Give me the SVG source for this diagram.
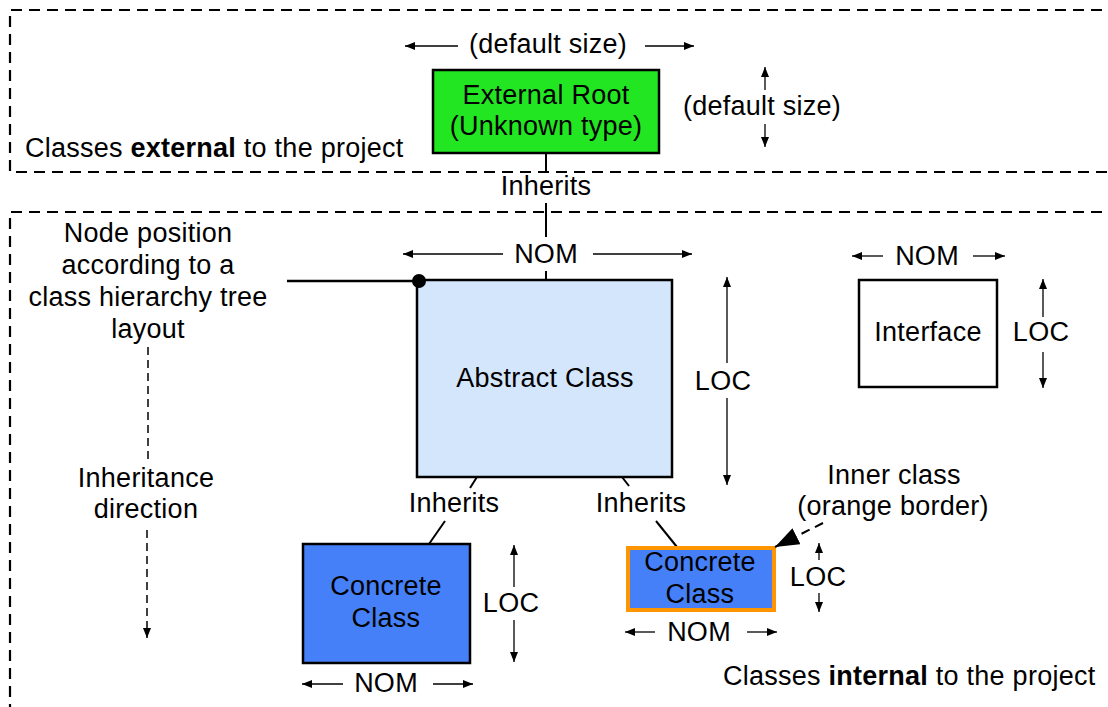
<svg xmlns="http://www.w3.org/2000/svg" width="1108" height="707" viewBox="0 0 1108 707">
  <defs>
    <marker id="arr" viewBox="0 0 10 8" refX="10" refY="4" markerWidth="10" markerHeight="8" markerUnits="userSpaceOnUse" orient="auto">
      <path d="M0,0 L10,4 L0,8 Z" fill="#000"/>
    </marker>
    <marker id="bigarr" viewBox="0 0 24 18" refX="24" refY="9" markerWidth="24" markerHeight="18" markerUnits="userSpaceOnUse" orient="auto">
      <path d="M0,0 L24,9 L0,18 Z" fill="#000"/>
    </marker>
    <style>
      text { font-family: "Liberation Sans", Arial, Helvetica, sans-serif; font-size: 27px; letter-spacing: 0.25px; fill: #000; }
      .c { text-anchor: middle; }
      .b { font-weight: bold; }
      .region { fill: none; stroke: #000; stroke-width: 2.2; stroke-dasharray: 11 7; }
      .dim { stroke: #000; stroke-width: 1.3; fill: none; marker-end: url(#arr); }
      .edge { stroke: #000; stroke-width: 2; fill: none; }
      .node { stroke: #000; stroke-width: 2.5; }
      .hint { stroke: #000; stroke-width: 1.5; fill: none; stroke-dasharray: 8 5; }
    </style>
  </defs>

  <rect width="1108" height="707" fill="#fff"/>

  <!-- project boundaries -->
  <g id="regions">
    <path class="region" d="M1120,10 H10 V172 H1120"/>
    <path class="region" d="M1120,212 H10 V720"/>
    <text x="25" y="157">Classes <tspan class="b">external</tspan> to the project</text>
    <text x="723" y="685">Classes <tspan class="b">internal</tspan> to the project</text>
  </g>

  <!-- inheritance connectors -->
  <g id="connectors">
    <path class="edge" d="M546,153 V171"/>
    <path class="edge" d="M546,203 V237"/>
    <path class="edge" d="M546,271 V280"/>
    <text class="c" x="546" y="195">Inherits</text>

    <path class="edge" d="M477,477 L470,488"/>
    <path class="edge" d="M445,521 L429,544"/>
    <text class="c" x="454" y="512">Inherits</text>

    <path class="edge" d="M622,477 L629,486"/>
    <path class="edge" d="M656,521 L677,547"/>
    <text class="c" x="641" y="512">Inherits</text>
  </g>

  <!-- external root -->
  <g id="external-root">
    <rect class="node" x="433" y="70" width="226" height="83" fill="#22e622"/>
    <text class="c" x="546" y="104">External Root</text>
    <text class="c" x="546" y="135">(Unknown type)</text>
    <path class="dim" d="M458,46 H405"/>
    <path class="dim" d="M645,46 H694"/>
    <text class="c" x="548" y="53">(default size)</text>
    <path class="dim" d="M765,90 V67"/>
    <path class="dim" d="M765,124 V147"/>
    <text class="c" x="762" y="115">(default size)</text>
  </g>

  <!-- abstract class -->
  <g id="abstract-class">
    <rect class="node" x="417" y="280" width="255" height="197" fill="#d4e6fc"/>
    <text class="c" x="545" y="387">Abstract Class</text>
    <path class="dim" d="M503,254 H403"/>
    <path class="dim" d="M593,254 H692"/>
    <text class="c" x="546" y="263">NOM</text>
    <path class="dim" d="M727,363 V277"/>
    <path class="dim" d="M727,398 V485"/>
    <text class="c" x="723" y="390">LOC</text>
  </g>

  <!-- node position note -->
  <g id="position-note">
    <path stroke="#000" stroke-width="2.5" d="M287,281 H419"/>
    <circle cx="419" cy="281" r="7" fill="#000"/>
    <text class="c" x="148" y="242">Node position</text>
    <text class="c" x="148" y="274">according to a</text>
    <text class="c" x="148" y="306">class hierarchy tree</text>
    <text class="c" x="148" y="338">layout</text>
  </g>

  <!-- inheritance direction note -->
  <g id="direction-note">
    <path class="hint" d="M148,347 V460"/>
    <text class="c" x="146" y="487">Inheritance</text>
    <text class="c" x="146" y="518">direction</text>
    <path class="hint" d="M147,530 V638" marker-end="url(#arr)"/>
  </g>

  <!-- interface -->
  <g id="interface">
    <rect class="node" x="859" y="280" width="138" height="107" fill="#fff"/>
    <text class="c" x="928" y="341">Interface</text>
    <path class="dim" d="M883,256 H852"/>
    <path class="dim" d="M973,256 H1005"/>
    <text class="c" x="927" y="265">NOM</text>
    <path class="dim" d="M1043,317 V279"/>
    <path class="dim" d="M1043,352 V388"/>
    <text class="c" x="1041" y="341">LOC</text>
  </g>

  <!-- concrete class -->
  <g id="concrete-class">
    <rect class="node" x="303" y="544" width="167" height="119" fill="#4680f8"/>
    <text class="c" x="386" y="595">Concrete</text>
    <text class="c" x="386" y="627">Class</text>
    <path class="dim" d="M514,587 V545"/>
    <path class="dim" d="M514,620 V662"/>
    <text class="c" x="511" y="612">LOC</text>
    <path class="dim" d="M343,684 H302"/>
    <path class="dim" d="M433,684 H473"/>
    <text class="c" x="386" y="692">NOM</text>
  </g>

  <!-- inner concrete class -->
  <g id="inner-class">
    <rect x="628" y="548" width="146" height="62" fill="#4680f8" stroke="#ff9500" stroke-width="4"/>
    <text class="c" x="700" y="571">Concrete</text>
    <text class="c" x="700" y="603">Class</text>
    <path class="dim" d="M819,560 V543"/>
    <path class="dim" d="M819,593 V612"/>
    <text class="c" x="818" y="586">LOC</text>
    <path class="dim" d="M655,632 H625"/>
    <path class="dim" d="M747,632 H777"/>
    <text class="c" x="699" y="641">NOM</text>
  </g>

  <!-- inner class note -->
  <g id="inner-note">
    <text class="c" x="894" y="484">Inner class</text>
    <text class="c" x="893" y="515">(orange border)</text>
    <path stroke="#000" stroke-width="2" fill="none" stroke-dasharray="9 6" d="M823,523 L775,547" marker-end="url(#bigarr)"/>
  </g>
</svg>
